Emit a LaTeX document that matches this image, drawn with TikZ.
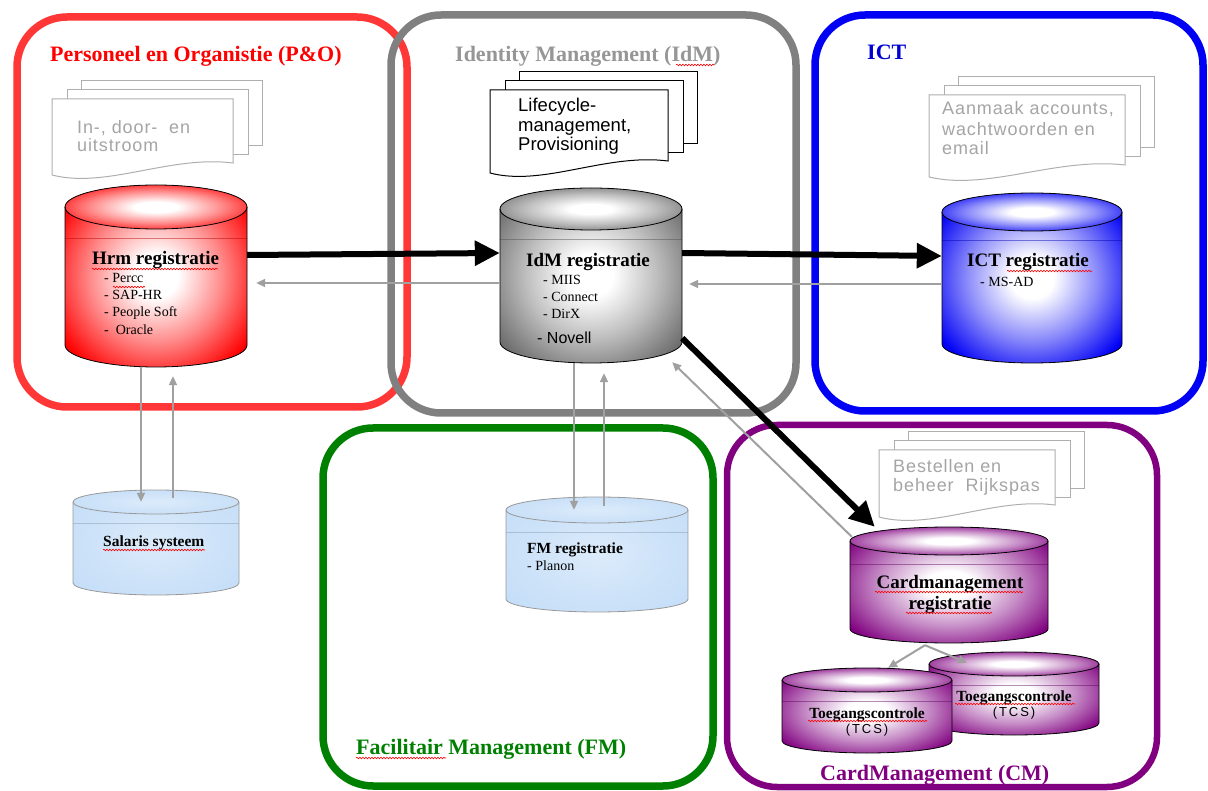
\documentclass[tikz,border=0pt]{standalone}
\usepackage{fontspec}
\setmainfont{Liberation Serif}
\newfontfamily\arialf{Liberation Sans}
\newfontfamily\arialsp[LetterSpace=5]{Liberation Sans}
\newfontfamily\arialwide[LetterSpace=15]{Liberation Sans}
\usetikzlibrary{arrows.meta,decorations.pathmorphing}

\definecolor{pored}{RGB}{255,55,55}
\definecolor{potext}{RGB}{255,0,0}
\definecolor{idmbox}{RGB}{128,128,128}
\definecolor{idmtext}{RGB}{150,150,150}
\definecolor{ictblue}{RGB}{0,0,245}
\definecolor{icttext}{RGB}{0,0,210}
\definecolor{fmgreen}{RGB}{0,128,0}
\definecolor{cmpurple}{RGB}{128,0,128}
\definecolor{arrgray}{RGB}{160,160,160}
\definecolor{docline}{RGB}{175,175,175}
\definecolor{doctext}{RGB}{165,165,165}
\definecolor{skyblue}{RGB}{192,219,247}
\definecolor{cylgray}{RGB}{110,110,110}
\colorlet{cylcol}{red}

\pgfdeclareradialshading[cylcol]{cylrad}{\pgfpoint{0bp}{0bp}}{color(0bp)=(white); color(6bp)=(white); color(18bp)=(cylcol!45!white); color(31bp)=(cylcol); color(50bp)=(cylcol)}
\pgfdeclareradialshading[cylcol]{skyrad}{\pgfpoint{0bp}{0bp}}{color(0bp)=(cylcol!55!white); color(20bp)=(cylcol!80!white); color(40bp)=(cylcol); color(50bp)=(cylcol)}

% #1 name, #2 cx, #3 ytop, #4 ybottom, #5 rx, #6 ry, #7 colour, #8 outline style, #9 shading
\newcommand\dbcyl[9]{%
  \colorlet{cylcol}{#7}%
  \shade[shading=#9] (#2-#5,#3+#6) -- (#2-#5,#4-#6)
     arc[start angle=180,end angle=360,x radius=#5pt,y radius=#6pt]
     -- (#2+#5,#3+#6)
     arc[start angle=0,end angle=180,x radius=#5pt,y radius=#6pt] -- cycle;
  \draw[draw=cylcol!70!black,opacity=0.45,line width=0.8pt] (#2-#5,#3+2*#6+9) -- (#2+#5,#3+2*#6+9);
  \shade[shading=#9] (#2,#3+#6) ellipse[x radius=#5pt,y radius=#6pt];
  \draw[#8] (#2-#5,#3+#6) -- (#2-#5,#4-#6)
     arc[start angle=180,end angle=360,x radius=#5pt,y radius=#6pt] -- (#2+#5,#3+#6);
  \draw[#8] (#2,#3+#6) ellipse[x radius=#5pt,y radius=#6pt];
  \node[inner sep=0pt,minimum width=2*#5pt,minimum height=#4pt-#3pt] (#1) at (#2,{(#3+#4)/2}) {};
}

% #1 name, #2 x1, #3 y1, #4 w, #5 h, #6 line colour
\newcommand\docstack[6]{%
  \draw[#6,fill=white,line width=1pt] (#2+29,#3-18) rectangle (#2+#4+29,#3+#5-29);
  \draw[#6,fill=white,line width=1pt] (#2+15,#3-9) rectangle (#2+#4+15,#3+#5-20);
  \draw[#6,fill=white,line width=1pt] (#2,#3) -- (#2+#4,#3) -- (#2+#4,#3+#5-12)
     .. controls (#2+0.65*#4,#3+#5-20) and (#2+0.3*#4,#3+#5+14) .. (#2,#3+#5) -- cycle;
  \coordinate (#1) at (#2,#3);
}

\newcommand\tline[4]{\node[anchor=base west,inner sep=0pt,#2] (#1) at (#3) {#4};}

\tikzset{
  areabox/.style={line width=7.5pt,rounded corners=50pt},
  titlefont/.style={font=\bfseries\fontsize{22}{24}\selectfont},
  cylbold/.style={font=\bfseries\fontsize{19}{21}\selectfont},
  cylsmallbold/.style={font=\bfseries\fontsize{15.5}{17}\selectfont},
  cylitem/.style={font=\fontsize{14}{16}\selectfont},
  doctxt/.style={font=\arialsp\fontsize{18}{20}\selectfont,text=doctext},
  darkline/.style={draw=black,line width=0.8pt},
  paleline/.style={draw=black!40,line width=0.8pt},
  bigarrow/.style={draw=black,line width=6pt,-{Triangle[length=25pt,width=24pt]}},
  smallarrow/.style={draw=arrgray,line width=2pt,-{Triangle[length=9pt,width=8pt]}},
  spell/.style={draw=red,line width=0.6pt,decorate,decoration={snake,amplitude=0.8pt,segment length=3pt}}
}

\begin{document}
\begin{tikzpicture}[x=1pt,y=-1pt]
\useasboundingbox (0,0) rectangle (1208,791);

% ---------- area boxes ----------
\draw[areabox,pored]   (17,17)   rectangle (407,407);
\draw[areabox,idmbox]  (391,15)  rectangle (796,413);
\draw[areabox,ictblue] (815,15)  rectangle (1203,411);
\draw[areabox,fmgreen] (323,428) rectangle (713,786);
\draw[areabox,cmpurple,line width=6.5pt] (727,425) rectangle (1157,787);

% ---------- titles ----------
\tline{tpo}{titlefont,text=potext}{50,62}{Personeel en Organistie (P\&O)}
\tline{tidm}{titlefont,text=idmtext}{455,62}{Identity Management (IdM)}
\tline{tict}{titlefont,text=icttext}{867,60}{ICT}
\tline{tfm}{titlefont,text=fmgreen}{356,754}{Facilitair Management (FM)}
\tline{tcm}{titlefont,text=cmpurple}{820,780}{CardManagement (CM)}

% ---------- document stacks ----------
\docstack{dpo}{52}{99}{181}{76}{docline}
\tline{dpo1}{doctxt}{77,134}{In-, door-\ \ en}
\tline{dpo2}{doctxt}{77,152}{uitstroom}

\docstack{didm}{490}{90}{178}{83}{black}
\tline{didm1}{font=\arialf\fontsize{18.5}{20}\selectfont}{518,112}{Lifecycle-}
\tline{didm2}{font=\arialf\fontsize{18.5}{20}\selectfont}{518,132}{management,}
\tline{didm3}{font=\arialf\fontsize{18.5}{20}\selectfont}{518,151}{Provisioning}

\docstack{dict}{929}{95}{196}{82}{docline}
\tline{dict1}{doctxt}{942,115}{Aanmaak accounts,}
\tline{dict2}{doctxt}{942,136}{wachtwoorden en}
\tline{dict3}{doctxt}{942,155}{email}

\docstack{dcm}{879}{450}{176}{67}{docline}
\tline{dcm1}{doctxt}{893,473}{Bestellen en}
\tline{dcm2}{doctxt}{893,492}{beheer\ \ Rijkspas}

% ---------- cylinders ----------
\dbcyl{hrm}{156}{185}{367}{91}{22}{red}{darkline}{cylrad}
\tline{hrmT}{cylbold}{92,265}{Hrm registratie}
\tline{hrm1}{cylitem}{104,283}{- Percc}
\tline{hrm2}{cylitem}{104,300}{- SAP-HR}
\tline{hrm3}{cylitem}{104,317}{- People Soft}
\tline{hrm4}{cylitem}{104,335}{-\ \ Oracle}

\dbcyl{idm}{591}{188}{363}{91}{21}{cylgray}{darkline}{cylrad}
\tline{idmT}{cylbold}{526,267}{IdM registratie}
\tline{idm1}{cylitem}{543,285}{- MIIS}
\tline{idm2}{cylitem}{543,302}{- Connect}
\tline{idm3}{cylitem}{543,319}{- DirX}
\tline{idm4}{font=\arialf\fontsize{16}{18}\selectfont}{537,344}{- Novell}

\dbcyl{ict}{1032}{193}{363}{90}{19}{ictblue}{darkline}{cylrad}
\tline{ictT}{cylbold}{967,267}{ICT registratie}
\tline{ict1}{cylitem}{980,287}{- MS-AD}

\dbcyl{sal}{156}{490}{595}{83}{12}{skyblue}{paleline}{skyrad}
\tline{salT}{cylsmallbold}{103,546}{Salaris systeem}

\dbcyl{fm}{597}{497}{612}{91}{13}{skyblue}{paleline}{skyrad}
\tline{fmT}{cylsmallbold}{527,553}{FM registratie}
\tline{fm1}{cylitem}{527,570}{- Planon}

\dbcyl{card}{949}{527}{643}{99}{14}{cmpurple}{darkline}{cylrad}
\tline{cardT1}{cylbold,anchor=base}{950,588}{Cardmanagement}
\tline{cardT2}{cylbold,anchor=base}{950,609}{registratie}

\dbcyl{tcs2}{1014}{652}{735}{85}{12}{cmpurple}{darkline}{cylrad}
\tline{tcs2T}{cylsmallbold,anchor=base}{1014,701}{Toegangscontrole}
\tline{tcs2S}{font=\arialwide\fontsize{13}{15}\selectfont,anchor=base}{1014,716}{(TCS)}

\dbcyl{tcs1}{867}{668}{753}{85}{12}{cmpurple}{darkline}{cylrad}
\tline{tcs1T}{cylsmallbold,anchor=base}{867,718}{Toegangscontrole}
\tline{tcs1S}{font=\arialwide\fontsize{13}{15}\selectfont,anchor=base}{867,733}{(TCS)}

% ---------- spell-check marks ----------
\draw[spell] (92,269) -- (218,269);
\draw[spell] (113,287) -- (145,287);
\draw[spell] (676,65) -- (714,65);
\draw[spell] (1007,271) -- (1092,271);
\draw[spell] (103,550) -- (205,550);
\draw[spell] (356,758) -- (446,758);
\draw[spell] (875,592) -- (1023,592);
\draw[spell] (906,613) -- (992,613);
\draw[spell] (808,721) -- (927,721);
\draw[spell] (955,704) -- (1075,704);

% ---------- connectors ----------
\draw[bigarrow] (hrm.east |- 0,255) -- (idm.west |- 0,253);
\draw[bigarrow] (idm.east |- 0,253) -- (ict.west |- 0,256);
\draw[bigarrow] ([yshift=25pt]idm.south east) -- ([xshift=25pt]card.north west);

\draw[smallarrow,shorten >=9pt] (idm.west |- 0,283) -- (hrm.east |- 0,283);
\draw[smallarrow,shorten >=7pt] (ict.west |- 0,284) -- (idm.east |- 0,284);
\draw[smallarrow,shorten >=-12pt] (hrm.south -| 141,0) -- (sal.north -| 141,0);
\draw[smallarrow,shorten <=-8pt,shorten >=9pt] (sal.north -| 173,0) -- (hrm.south -| 173,0);
\draw[smallarrow,shorten >=-13pt] (idm.south -| 574,0) -- (fm.north -| 574,0);
\draw[smallarrow,shorten <=-9pt,shorten >=10pt] (fm.north -| 604,0) -- (idm.south -| 604,0);
\draw[smallarrow] ([shift={(2,10)}]card.north west) -- ([shift={(-10,-1)}]idm.south east);
\draw[smallarrow] ([shift={(-24,2)}]card.south) -- ([shift={(21,0)}]tcs1.north);
\draw[smallarrow] ([shift={(-24,2)}]card.south) -- ([shift={(-47,11)}]tcs2.north);
\end{tikzpicture}
\end{document}
